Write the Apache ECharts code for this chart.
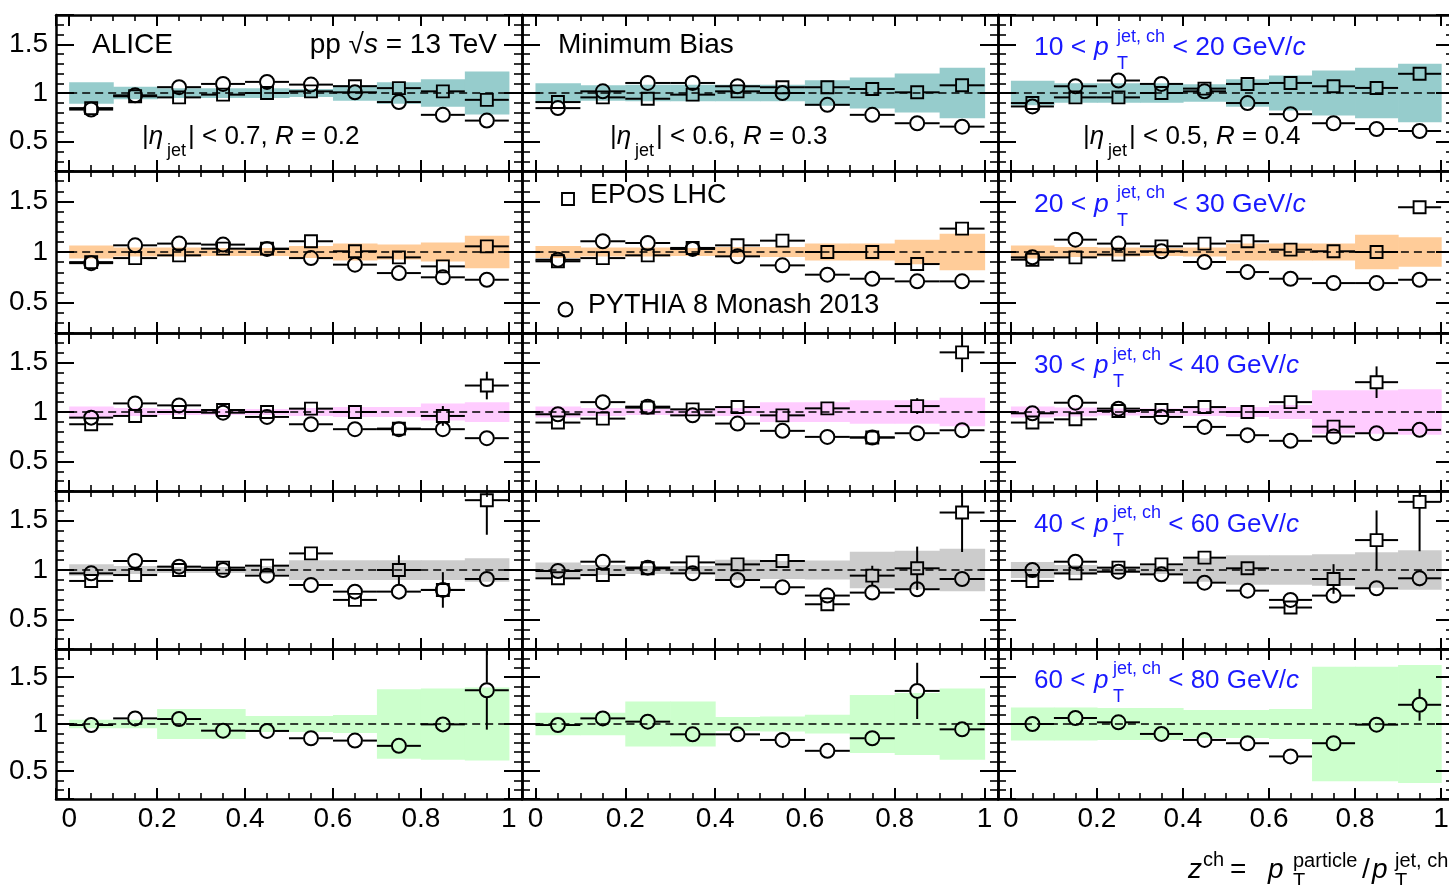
<!DOCTYPE html>
<html>
<head>
<meta charset="utf-8">
<script src="https://cdn.jsdelivr.net/npm/echarts@6/dist/echarts.min.js"></script>
<style>
html,body{margin:0;padding:0;background:#fff;}
#chart{width:1449px;height:885px;}
</style>
</head>
<body>
<div id="chart"></div>
<script>
// ---------------- DATA ----------------
const zBinEdges = [0, 0.1, 0.2, 0.3, 0.4, 0.5, 0.6, 0.7, 0.8, 0.9, 1.0];
const zCenters = [0.05, 0.15, 0.25, 0.35, 0.45, 0.55, 0.65, 0.75, 0.85, 0.95];
const refRatio = 1;
const ptLow = [10, 20, 30, 40, 60];
const ptHigh = [20, 30, 40, 60, 80];
const etaMax = ['0.7', '0.6', '0.5'];
const jetR = ['0.2', '0.3', '0.4'];

// systematic uncertainty band half-widths (rows = pT bins, inner arrays = R columns)
const sysRow1 = [
  [0.11, 0.065, 0.05, 0.05, 0.05, 0.04, 0.08, 0.11, 0.14, 0.22],
  [0.10, 0.08, 0.085, 0.085, 0.085, 0.085, 0.13, 0.16, 0.20, 0.26],
  [0.125, 0.10, 0.10, 0.10, 0.09, 0.14, 0.18, 0.23, 0.26, 0.30]
];
const sysRow2 = [
  [0.065, 0.045, 0.045, 0.04, 0.04, 0.06, 0.085, 0.075, 0.095, 0.16],
  [0.06, 0.045, 0.045, 0.04, 0.05, 0.05, 0.085, 0.085, 0.12, 0.18],
  [0.065, 0.05, 0.045, 0.04, 0.045, 0.085, 0.085, 0.085, 0.17, 0.145]
];
const sysRow3 = [
  [0.055, 0.04, 0.03, 0.03, 0.03, 0.04, 0.05, 0.05, 0.085, 0.10],
  [0.055, 0.04, 0.03, 0.03, 0.04, 0.10, 0.10, 0.12, 0.12, 0.145],
  [0.055, 0.045, 0.035, 0.035, 0.04, 0.05, 0.07, 0.22, 0.22, 0.23]
];
const sysRow4 = [
  [0.057, 0.04, 0.03, 0.03, 0.04, 0.10, 0.10, 0.10, 0.10, 0.12],
  [0.075, 0.05, 0.04, 0.04, 0.105, 0.09, 0.095, 0.185, 0.195, 0.215],
  [0.08, 0.05, 0.03, 0.04, 0.12, 0.15, 0.15, 0.16, 0.18, 0.20]
];
const sysRow5 = [
  [0.045, 0.045, 0.16, 0.16, 0.085, 0.085, 0.095, 0.37, 0.38, 0.39],
  [0.12, 0.12, 0.24, 0.24, 0.075, 0.08, 0.10, 0.31, 0.33, 0.38],
  [0.175, 0.175, 0.17, 0.17, 0.15, 0.15, 0.16, 0.61, 0.61, 0.63]
];

// EPOS LHC / data ratio
const eposRow1 = [
  [0.845, 0.966, 0.955, 0.983, 1.0, 1.017, 1.07, 1.05, 1.017, 0.93],
  [0.907, 0.955, 0.941, 0.983, 1.017, 1.059, 1.059, 1.041, 1.007, 1.079],
  [0.897, 0.955, 0.955, 1.0, 1.045, 1.093, 1.103, 1.069, 1.052, 1.197]
];
const eposRow2 = [
  [0.9, 0.94, 0.967, 1.033, 1.033, 1.106, 1.007, 0.947, 0.858, 1.056],
  [0.908, 0.94, 0.967, 1.04, 1.066, 1.112, 1.0, 1.0, 0.881, 1.231],
  [0.924, 0.947, 0.974, 1.056, 1.083, 1.106, 1.023, 1.007, 1.0, 1.442]
];
const eposRow3 = [
  [0.876, 0.96, 1.0, 1.02, 1.0, 1.034, 1.0, 0.832, 0.96, 1.268],
  [0.893, 0.933, 1.044, 1.027, 1.05, 0.966, 1.037, 0.742, 1.06, 1.604],
  [0.893, 0.926, 1.01, 1.02, 1.05, 1.0, 1.1, 0.852, 1.302, 1.95]
];
const eposRow4 = [
  [0.889, 0.949, 1.0, 1.024, 1.044, 1.168, 0.697, 1.0, 0.798, 1.707],
  [0.916, 0.949, 1.017, 1.077, 1.057, 1.091, 0.653, 0.943, 1.017, 1.582],
  [0.889, 0.966, 1.024, 1.057, 1.125, 1.017, 0.62, 0.909, 1.303, 1.69]
];
const eposErrRow1 = [
  [0, 0, 0, 0, 0, 0, 0, 0, 0, 0],
  [0, 0, 0, 0, 0, 0, 0, 0, 0, 0],
  [0, 0, 0, 0, 0, 0, 0, 0, 0, 0.03]
];
const eposErrRow2 = [
  [0, 0, 0, 0, 0, 0, 0, 0, 0, 0],
  [0, 0, 0, 0, 0, 0, 0, 0, 0, 0.03],
  [0, 0, 0, 0, 0, 0, 0, 0, 0, 0.05]
];
const eposErrRow3 = [
  [0, 0, 0, 0, 0, 0, 0, 0.03, 0.1, 0.14],
  [0, 0, 0, 0, 0, 0, 0, 0, 0.08, 0.2],
  [0, 0, 0, 0, 0, 0, 0.04, 0.05, 0.16, 0.1]
];
const eposErrRow4 = [
  [0, 0, 0, 0, 0, 0.05, 0.04, 0.15, 0.18, 0.35],
  [0, 0, 0, 0, 0, 0.05, 0.05, 0.1, 0.22, 0.4],
  [0, 0, 0, 0, 0, 0.05, 0.05, 0.15, 0.3, 0.5]
];

// PYTHIA 8 Monash 2013 / data ratio
const pythiaRow1 = [
  [0.83, 0.976, 1.06, 1.093, 1.114, 1.086, 1.007, 0.907, 0.776, 0.717],
  [0.845, 1.017, 1.103, 1.103, 1.069, 1.0, 0.879, 0.776, 0.69, 0.655],
  [0.862, 1.069, 1.128, 1.093, 1.017, 0.897, 0.783, 0.69, 0.631, 0.61]
];
const pythiaRow2 = [
  [0.89, 1.066, 1.083, 1.073, 1.03, 0.94, 0.875, 0.792, 0.75, 0.726],
  [0.924, 1.106, 1.089, 1.03, 0.957, 0.868, 0.776, 0.736, 0.71, 0.71],
  [0.947, 1.122, 1.083, 1.007, 0.901, 0.802, 0.736, 0.693, 0.693, 0.726]
];
const pythiaRow3 = [
  [0.943, 1.087, 1.067, 0.993, 0.95, 0.876, 0.826, 0.826, 0.826, 0.735],
  [0.977, 1.1, 1.054, 0.966, 0.883, 0.809, 0.748, 0.742, 0.785, 0.815],
  [0.987, 1.094, 1.034, 0.95, 0.849, 0.765, 0.708, 0.752, 0.785, 0.819]
];
const pythiaRow4 = [
  [0.966, 1.091, 1.034, 1.0, 0.943, 0.848, 0.781, 0.781, 0.798, 0.909],
  [0.99, 1.084, 1.024, 0.966, 0.899, 0.825, 0.741, 0.771, 0.805, 0.909],
  [1.0, 1.084, 0.983, 0.956, 0.872, 0.791, 0.697, 0.741, 0.815, 0.916]
];
const pythiaRow5 = [
  [0.989, 1.06, 1.053, 0.929, 0.926, 0.848, 0.823, 0.767, 0.996, 1.36],
  [0.989, 1.06, 1.025, 0.89, 0.89, 0.83, 0.714, 0.848, 1.353, 0.943],
  [1.0, 1.064, 1.018, 0.894, 0.83, 0.795, 0.654, 0.795, 0.993, 1.205]
];
const pythiaErrRow1 = [
  [0, 0, 0, 0, 0, 0, 0, 0, 0, 0],
  [0, 0, 0, 0, 0, 0, 0, 0, 0, 0],
  [0, 0, 0, 0, 0, 0, 0, 0, 0, 0]
];
const pythiaErrRow2 = [
  [0, 0, 0, 0, 0, 0, 0, 0, 0, 0],
  [0, 0, 0, 0, 0, 0, 0, 0, 0, 0],
  [0, 0, 0, 0, 0, 0, 0, 0, 0, 0]
];
const pythiaErrRow3 = [
  [0, 0, 0, 0, 0, 0, 0, 0, 0, 0],
  [0, 0, 0, 0, 0, 0, 0, 0, 0, 0],
  [0, 0, 0, 0, 0, 0, 0, 0, 0, 0]
];
const pythiaErrRow4 = [
  [0, 0, 0, 0, 0, 0, 0.03, 0, 0, 0],
  [0, 0, 0, 0, 0, 0, 0.04, 0, 0.05, 0],
  [0, 0, 0, 0, 0, 0, 0.04, 0.07, 0, 0.08]
];
const pythiaErrRow5 = [
  [0, 0, 0, 0, 0, 0, 0, 0, 0, 0.42],
  [0, 0, 0, 0, 0, 0, 0, 0, 0.3, 0.06],
  [0, 0, 0, 0, 0, 0, 0, 0, 0, 0.17]
];

const sysRows = [sysRow1, sysRow2, sysRow3, sysRow4, sysRow5];
const eposRows = [eposRow1, eposRow2, eposRow3, eposRow4, null];
const eposErrRows = [eposErrRow1, eposErrRow2, eposErrRow3, eposErrRow4, null];
const pythiaRows = [pythiaRow1, pythiaRow2, pythiaRow3, pythiaRow4, pythiaRow5];
const pythiaErrRows = [pythiaErrRow1, pythiaErrRow2, pythiaErrRow3, pythiaErrRow4, pythiaErrRow5];

// ---------------- LAYOUT / STYLE ----------------
const bandColors = ['#96cccc', '#ffcc99', '#ffccff', '#cccccc', '#ccffcc'];
const colLeft = [56, 522, 998];
const colWidth = [466, 476, 456];
const rowTop = [15, 171, 333, 491, 649];
const rowHeight = [156, 162, 158, 158, 150];
const FONT = 'Liberation Sans';

function xAxisCfg(g, pos, labels) {
  return {
    type: 'value', gridIndex: g, position: pos, min: -0.03, max: 1.03, splitNumber: 5,
    axisLine: { show: true, onZero: false, lineStyle: { color: '#000', width: 2.5 } },
    axisTick: { show: true, inside: true, length: 11, lineStyle: { color: '#000', width: 2 } },
    minorTick: { show: true, splitNumber: 4, length: 6, lineStyle: { color: '#000', width: 1.6 } },
    splitLine: { show: false }, minorSplitLine: { show: false },
    axisLabel: { show: labels, showMinLabel: false, showMaxLabel: false, margin: 6, fontSize: 28,
      color: '#000', fontFamily: FONT, formatter: v => String(Math.round(v * 100) / 100) },
    z: 10
  };
}
function yAxisCfg(g, pos, labels) {
  return {
    type: 'value', gridIndex: g, position: pos, min: 0.2, max: 1.8, splitNumber: 3,
    axisLine: { show: true, onZero: false, lineStyle: { color: '#000', width: 2.5 } },
    axisTick: { show: true, inside: true, length: 18, lineStyle: { color: '#000', width: 2 } },
    minorTick: { show: true, splitNumber: 5, length: 8, lineStyle: { color: '#000', width: 1.6 } },
    splitLine: { show: false }, minorSplitLine: { show: false },
    axisLabel: { show: labels, showMinLabel: false, showMaxLabel: false, margin: 8, fontSize: 28,
      color: '#000', fontFamily: FONT, formatter: v => String(Math.round(v * 100) / 100) },
    z: 10
  };
}

function bandSeries(xi, yi, half, color) {
  return {
    type: 'custom', xAxisIndex: xi, yAxisIndex: yi, clip: true, silent: true, z: 1,
    data: half.map((h, i) => [zBinEdges[i], zBinEdges[i + 1], h]),
    renderItem(params, api) {
      const p0 = api.coord([api.value(0), refRatio + api.value(2)]);
      const p1 = api.coord([api.value(1), refRatio - api.value(2)]);
      return { type: 'rect', shape: { x: p0[0], y: p0[1], width: p1[0] - p0[0] + 0.6, height: p1[1] - p0[1] },
        style: { fill: color } };
    }
  };
}
function refLineSeries(xi, yi) {
  return {
    type: 'line', xAxisIndex: xi, yAxisIndex: yi, z: 3, silent: true, symbol: 'none',
    data: [[zBinEdges[0], refRatio], [zBinEdges[zBinEdges.length - 1], refRatio]],
    lineStyle: { color: '#000', width: 1.7, type: [8, 5] }
  };
}
function markerSeries(kind, xi, yi, vals, errs) {
  return {
    type: 'custom', xAxisIndex: xi, yAxisIndex: yi, clip: true, silent: true, z: kind === 'circle' ? 6 : 5,
    data: vals.map((v, i) => [zCenters[i], v, errs[i], zBinEdges[i], zBinEdges[i + 1]]),
    renderItem(params, api) {
      const x = api.value(0), y = api.value(1), e = api.value(2);
      const c = api.coord([x, y]);
      const l = api.coord([api.value(3), y]);
      const r = api.coord([api.value(4), y]);
      const t = api.coord([x, y + e]);
      const b = api.coord([x, y - e]);
      const R = kind === 'circle' ? 7.5 : 6;
      const ls = { stroke: '#000', lineWidth: 2 };
      const ch = [
        { type: 'line', shape: { x1: l[0], y1: c[1], x2: c[0] - R, y2: c[1] }, style: ls },
        { type: 'line', shape: { x1: c[0] + R, y1: c[1], x2: r[0], y2: c[1] }, style: ls }
      ];
      if (c[1] - t[1] > R) ch.push({ type: 'line', shape: { x1: c[0], y1: t[1], x2: c[0], y2: c[1] - R }, style: ls });
      if (b[1] - c[1] > R) ch.push({ type: 'line', shape: { x1: c[0], y1: c[1] + R, x2: c[0], y2: b[1] }, style: ls });
      if (kind === 'circle') {
        ch.push({ type: 'circle', shape: { cx: c[0], cy: c[1], r: R - 0.5 }, style: { fill: 'none', stroke: '#000', lineWidth: 2 } });
      } else {
        ch.push({ type: 'rect', shape: { x: c[0] - 6, y: c[1] - 6, width: 12, height: 12 }, style: { fill: 'none', stroke: '#000', lineWidth: 1.9 } });
      }
      return { type: 'group', children: ch };
    }
  };
}

const grids = [], xAxes = [], yAxes = [], series = [];
for (let r = 0; r < 5; r++) {
  for (let c = 0; c < 3; c++) {
    const g = grids.length;
    grids.push({ left: colLeft[c], top: rowTop[r], width: colWidth[c], height: rowHeight[r], containLabel: false, outerBoundsMode: 'none' });
    xAxes.push(xAxisCfg(g, 'bottom', r === 4));
    xAxes.push(xAxisCfg(g, 'top', false));
    yAxes.push(yAxisCfg(g, 'left', c === 0));
    yAxes.push(yAxisCfg(g, 'right', false));
    const xi = 2 * g, yi = 2 * g;
    series.push(bandSeries(xi, yi, sysRows[r][c], bandColors[r]));
    series.push(refLineSeries(xi, yi));
    if (eposRows[r]) series.push(markerSeries('rect', xi, yi, eposRows[r][c], eposErrRows[r][c]));
    series.push(markerSeries('circle', xi, yi, pythiaRows[r][c], pythiaErrRows[r][c]));
  }
}

// ---------------- TEXT ----------------
const measureCtx = document.createElement('canvas').getContext('2d');
function fontStr(size, italic) { return (italic ? 'italic ' : '') + size + 'px "' + FONT + '"'; }
function textWidth(t, size, italic) { measureCtx.font = fontStr(size, italic); return measureCtx.measureText(t).width; }
function textEl(t, x, y, size, italic, color) {
  return { type: 'text', x: x, y: y, z: 100, silent: true,
    style: { text: t, font: fontStr(size, italic), fill: color, textAlign: 'left', textVerticalAlign: 'middle', align: 'left', verticalAlign: 'middle' } };
}
function mathWidth(segs) {
  let w = 0;
  for (const s of segs) {
    if (s.t != null) w += textWidth(s.t, s.s, s.it);
    else w += Math.max(s.sup ? textWidth(s.sup, s.s, false) : 0, s.sub ? textWidth(s.sub, s.s, false) : 0);
  }
  return w;
}
function mathText(segs, x, y, color) {
  const els = [];
  let cx = x;
  for (const s of segs) {
    if (s.x != null) cx = s.x;
    if (s.t != null) {
      els.push(textEl(s.t, cx, y + (s.dy || 0), s.s, s.it, color));
      cx += textWidth(s.t, s.s, s.it);
    } else {
      let wmax = 0;
      if (s.sup) { els.push(textEl(s.sup, cx, y + s.supDy, s.s, false, color)); wmax = Math.max(wmax, textWidth(s.sup, s.s, false)); }
      if (s.sub) { els.push(textEl(s.sub, cx, y + s.subDy, s.s, false, color)); wmax = Math.max(wmax, textWidth(s.sub, s.s, false)); }
      cx += wmax;
    }
  }
  return els;
}

let gElems = [];
gElems.push(textEl('ALICE', 92, 45, 28, false, '#000'));
const ppSegs = [{ t: 'pp ', s: 28 }, { t: '√', s: 28 }, { t: 's', s: 28, it: true }, { t: ' = 13 TeV', s: 28 }];
gElems = gElems.concat(mathText(ppSegs, 497 - mathWidth(ppSegs), 45, '#000'));
gElems.push(textEl('Minimum Bias', 558, 45, 28, false, '#000'));
const etaX = [142, 610, 1083];
for (let c = 0; c < 3; c++) {
  const x0 = etaX[c];
  gElems = gElems.concat(mathText([
    { t: '|', s: 26 }, { t: 'η', s: 26, it: true },
    { x: x0 + 25, sub: 'jet', s: 18, subDy: 14 },
    { x: x0 + 46, t: '| < ' + etaMax[c] + ', ', s: 26 }, { t: 'R', s: 26, it: true }, { t: ' = ' + jetR[c], s: 26 }
  ], x0, 137, '#000'));
}
const blueY = [48, 204.5, 366, 524.5, 680.5];
const blueScriptX = [1117, 1117, 1113, 1113, 1113];
const blueSize = [26.5, 26.5, 26, 26, 26];
for (let r = 0; r < 5; r++) {
  gElems = gElems.concat(mathText([
    { t: ptLow[r] + ' < ', s: blueSize[r] }, { x: 1094, t: 'p', s: blueSize[r], it: true },
    { x: blueScriptX[r], sup: 'jet, ch', sub: 'T', s: 18, supDy: -11, subDy: 16.5 },
    { t: ' < ' + ptHigh[r] + ' GeV/', s: blueSize[r] }, { t: 'c', s: blueSize[r], it: true }
  ], 1034, blueY[r], '#1a1aff'));
}
// legend
gElems.push({ type: 'rect', z: 100, silent: true, shape: { x: 562, y: 193, width: 12, height: 12 }, style: { fill: 'none', stroke: '#000', lineWidth: 1.9 } });
gElems.push(textEl('EPOS LHC', 590, 196, 27, false, '#000'));
gElems.push({ type: 'circle', z: 100, silent: true, shape: { cx: 565.5, cy: 309.5, r: 7 }, style: { fill: 'none', stroke: '#000', lineWidth: 2 } });
gElems.push(textEl('PYTHIA 8 Monash 2013', 588, 306, 27, false, '#000'));
// x-axis title
gElems = gElems.concat(mathText([
  { x: 1188, t: 'z', s: 28, it: true },
  { x: 1203, sup: 'ch', s: 20, supDy: -10 },
  { x: 1230, t: '=', s: 28 },
  { x: 1268, t: 'p', s: 28, it: true },
  { x: 1293, sup: 'particle', sub: 'T', s: 20, supDy: -9, subDy: 11 },
  { x: 1362, t: '/', s: 28 },
  { x: 1372, t: 'p', s: 28, it: true },
  { x: 1395, sup: 'jet, ch', sub: 'T', s: 20, supDy: -9, subDy: 11 }
], 1188, 870, '#000'));

const chart = echarts.init(document.getElementById('chart'), null, { renderer: 'canvas' });
chart.setOption({
  animation: false,
  backgroundColor: '#fff',
  textStyle: { fontFamily: FONT },
  grid: grids,
  xAxis: xAxes,
  yAxis: yAxes,
  series: series,
  graphic: { elements: gElems }
});
</script>
</body>
</html>
